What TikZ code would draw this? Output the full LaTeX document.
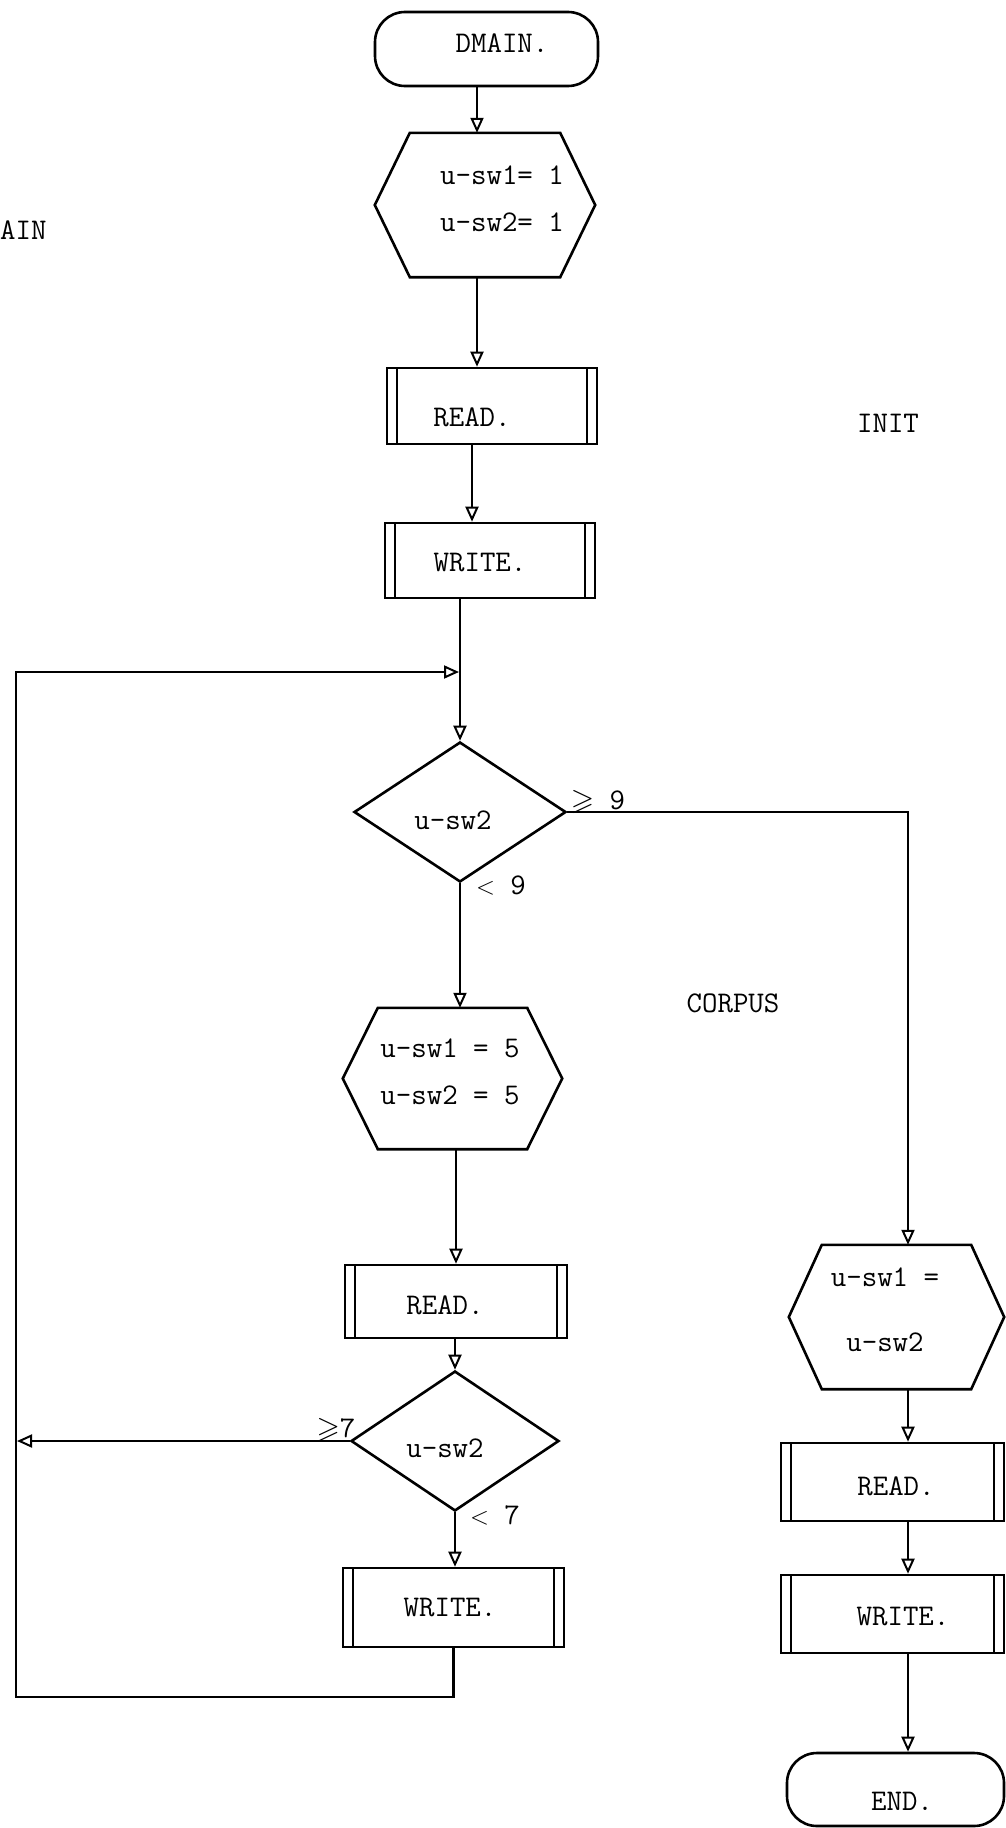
\documentclass[tikz,border=0pt]{standalone}
\usepackage{amssymb}
\usepackage{fontspec}
\usetikzlibrary{arrows.meta,shapes.geometric}
\newcommand\mytt{\ttfamily\fontsize{30}{36}\selectfont}
\newcommand\drawhexa[2]{\draw[ln] ([xshift=#2]#1.north west) -- ([xshift=-#2]#1.north east) -- (#1.east) -- ([xshift=-#2]#1.south east) -- ([xshift=#2]#1.south west) -- (#1.west) -- cycle;}
\tikzset{
  ln/.style={line width=2.6pt, line join=miter},
  arr/.style={ln, -{Triangle[open, length=15pt, width=13pt, line width=2pt]}},
  term/.style={draw, ln, rectangle, rounded corners=30pt, inner sep=0pt},
  procbox/.style={draw, ln, rectangle, inner sep=0pt,
    path picture={\draw[line width=2pt]
      ([xshift=10pt]path picture bounding box.north west) -- ([xshift=10pt]path picture bounding box.south west)
      ([xshift=-10pt]path picture bounding box.north east) -- ([xshift=-10pt]path picture bounding box.south east);}},
  hexnode/.style={rectangle, inner sep=0pt},
  decbox/.style={draw, ln, diamond, inner sep=0pt},
  txt/.style={inner sep=0pt, font=\mytt},
}
\begin{document}
\begin{tikzpicture}[x=1pt,y=-1pt]
\useasboundingbox (0,0) rectangle (1006,1828);
\fill[white] (0,0) rectangle (1006,1828);

% main column
\node[term, minimum width=223pt, minimum height=74pt] (dmain) at (486.5,49) {};
\node[txt] (tdmain) at ([xshift=15.5pt,yshift=6pt]dmain.center) {DMAIN.};

\node[hexnode, minimum width=220pt, minimum height=144pt] (hex1) at (485,205) {};
\drawhexa{hex1}{35pt}
\node[txt, align=center, font=\ttfamily\fontsize{30}{47}\selectfont] (thex1) at ([xshift=17pt,yshift=6.5pt]hex1.center) {u-sw1= 1\\u-sw2= 1};

\node[procbox, minimum width=210pt, minimum height=76pt] (read1) at (492,406) {};
\node[txt] (tread1) at ([xshift=-20pt,yshift=-11pt]read1.center) {READ.};

\node[procbox, minimum width=210pt, minimum height=75pt] (write1) at (490,560.5) {};
\node[txt] (twrite1) at ([xshift=-10pt,yshift=-2.5pt]write1.center) {WRITE.};

\node[decbox, minimum width=212pt, minimum height=140pt] (d1) at (460,812) {};
\node[txt] (td1) at ([xshift=-7pt,yshift=-8pt]d1.center) {u-sw2};

\node[hexnode, minimum width=219pt, minimum height=141pt] (hex2) at (452.5,1078.5) {};
\drawhexa{hex2}{35pt}
\node[txt, align=center, font=\ttfamily\fontsize{30}{47}\selectfont] (thex2) at ([xshift=-2.5pt,yshift=7pt]hex2.center) {u-sw1 = 5\\u-sw2 = 5};

\node[procbox, minimum width=222pt, minimum height=73pt] (read2) at (456,1301.5) {};
\node[txt] (tread2) at ([xshift=-11pt,yshift=-3.5pt]read2.center) {READ.};

\node[decbox, minimum width=208pt, minimum height=140pt] (d2) at (455,1441) {};
\node[txt] (td2) at ([xshift=-10pt,yshift=-7pt]d2.center) {u-sw2};

\node[procbox, minimum width=221pt, minimum height=79pt] (write2) at (453.5,1607.5) {};
\node[txt] (twrite2) at ([xshift=-3.5pt]write2.center) {WRITE.};

% right column
\node[hexnode, minimum width=215pt, minimum height=144pt] (hex3) at (896.5,1317) {};
\drawhexa{hex3}{33pt}
\node[txt, align=center, font=\ttfamily\fontsize{30}{65}\selectfont] (thex3) at ([xshift=-11.5pt,yshift=7.5pt]hex3.center) {u-sw1 =\\u-sw2};

\node[procbox, minimum width=223pt, minimum height=78pt] (read3) at (892.5,1482) {};
\node[txt] (tread3) at ([xshift=3.5pt,yshift=-4pt]read3.center) {READ.};

\node[procbox, minimum width=223pt, minimum height=78pt] (write3) at (892.5,1614) {};
\node[txt] (twrite3) at ([xshift=10.5pt,yshift=-2pt]write3.center) {WRITE.};

\node[term, minimum width=217pt, minimum height=73pt] (endn) at (895.5,1789.5) {};
\node[txt] (tendn) at ([xshift=6.5pt,yshift=-11.5pt]endn.center) {END.};

% free labels
\node[txt, anchor=west] (ain) at (0,230) {AIN};
\node[txt] (init) at (888,423) {INIT};
\node[txt] (corpus) at (733,1003) {CORPUS};
\node[txt] (ge9) at (598,802) {$\geqslant$ 9};
\node[txt] (lt9) at (501,885) {$<$ 9};
\node[txt] (ge7) at (336,1430) {$\geqslant$7};
\node[txt] (lt7) at (495,1515) {$<$ 7};

% columns and corners
\coordinate (c1) at (477,0);
\coordinate (c2) at (472,0);
\coordinate (c3) at (908,0);
\coordinate (c4) at (456,0);
\coordinate (lb) at (16,1697);
\coordinate (lt) at (16,672);

% connectors
\draw[arr] (dmain.south -| c1) -- (hex1.north -| c1);
\draw[arr] (hex1.south -| c1) -- (read1.north -| c1);
\draw[arr] (read1.south -| c2) -- (write1.north -| c2);
\draw[arr] (write1.south -| d1.north) -- (d1.north);
\draw[arr] (d1.south) -- (d1.south |- hex2.north);
\draw[arr] (hex2.south -| c4) -- (read2.north -| c4);
\draw[arr] (read2.south -| d2.north) -- (d2.north);
\draw[arr] (d2.south) -- (d2.south |- write2.north);
\draw[arr, shorten >=1pt] (write2.south) |- (lb) -- (lt) -- (lt -| d1.north);
\draw[arr, shorten >=1pt] (d2.west) -- (d2.west -| lt);
\draw[arr] (d1.east) -- (d1.east -| c3) -- (hex3.north -| c3);
\draw[arr] (hex3.south -| c3) -- (read3.north -| c3);
\draw[arr] (read3.south -| c3) -- (write3.north -| c3);
\draw[arr] (write3.south -| c3) -- (endn.north -| c3);
\end{tikzpicture}
\end{document}
